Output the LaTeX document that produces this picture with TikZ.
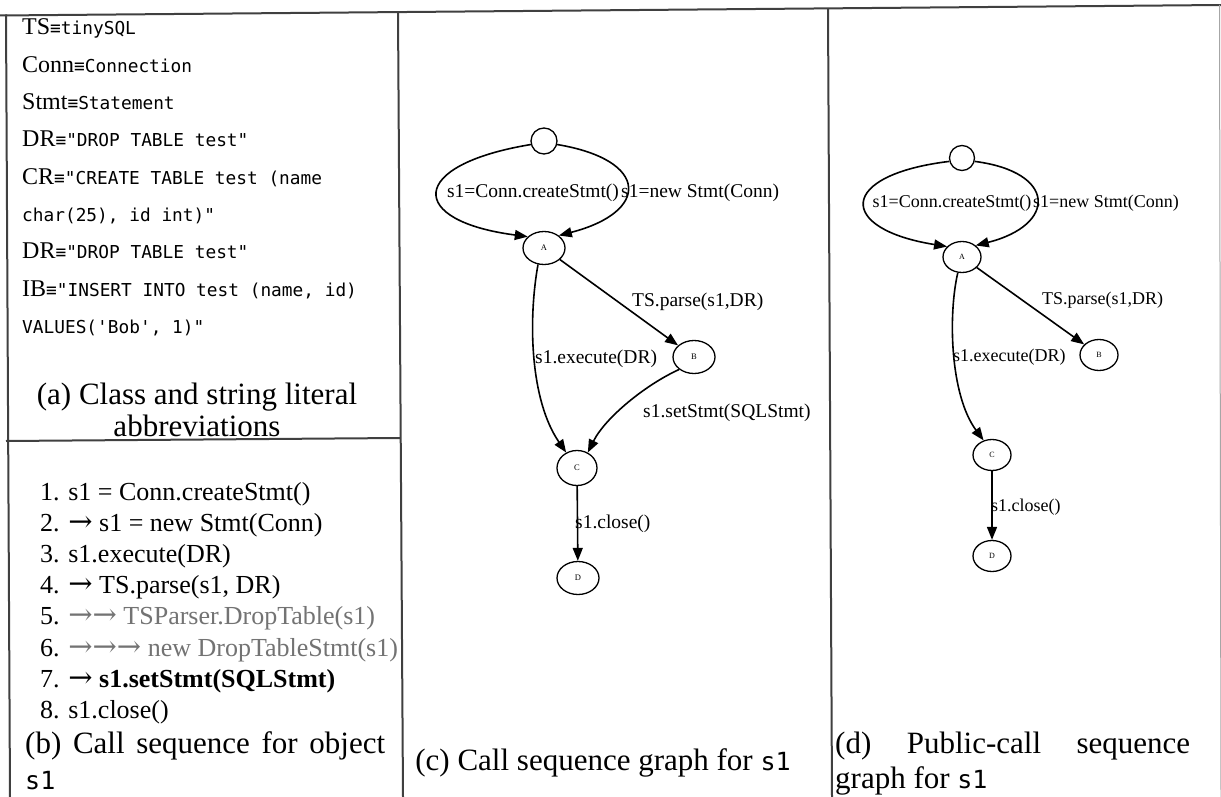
\documentclass[tikz,border=0pt]{standalone}
\usepackage{fontspec}
\setmainfont{Liberation Serif}
\setmonofont{DejaVu Sans Mono}
\newfontfamily\arrfont{DejaVu Serif}
\usetikzlibrary{shapes.geometric,arrows.meta}
\newcommand\fsz[1]{\fontsize{#1}{#1}\selectfont}
\newcommand\abbr[2]{\fsz{24}#1{\ttfamily\fsz{17.8}≡#2}}
\newcommand\rarr[1]{{\arrfont\fsz{29}#1}}
\begin{document}
\begin{tikzpicture}[x=1pt,y=-1pt,
  frameline/.style={line width=2pt, draw=black!75},
  txt/.style={anchor=base west, inner sep=0pt},
  mono/.style={anchor=base west, inner sep=0pt, font=\ttfamily\fsz{17.8}},
  item/.style={anchor=base west, inner sep=0pt, font=\fsz{26}},
  captxt/.style={inner sep=0pt, font=\fsz{31}},
  gnode/.style={ellipse, draw, line width=1.3pt, inner sep=0pt, minimum width=42pt, minimum height=33pt, font=\fsz{8.5}},
  gnoded/.style={ellipse, draw, line width=1.3pt, inner sep=0pt, minimum width=38pt, minimum height=31pt, font=\fsz{8}},
  topc/.style={circle, draw, line width=1.3pt, minimum size=26pt, inner sep=0pt},
  edge/.style={line width=1.6pt, -{Triangle[length=13pt,width=10pt]}},
  lblc/.style={inner sep=0pt, font=\fsz{19.5}},
  lbld/.style={inner sep=0pt, font=\fsz{18}}
]
\useasboundingbox (0,0) rectangle (1221,797);
\fill[white] (0,0) rectangle (1221,797);

% frame
\draw[frameline] (0,15.5) -- (1221,5);
\draw[frameline] (6,14.5) -- (10,797);
\draw[frameline] (398,12) -- (403,797);
\draw[frameline] (828,8.5) -- (832,797);
\draw[frameline] (6,441) -- (400,438);
\draw[line width=1pt, draw=black!35] (1219.5,5) -- (1221,797);

% panel (a)
\node[txt] (a1) at (22,35) {\abbr{TS}{tinySQL}};
\node[txt] (a2) at (22,72.3) {\abbr{Conn}{Connection}};
\node[txt] (a3) at (22,109.6) {\abbr{Stmt}{Statement}};
\node[txt] (a4) at (22,146.9) {\abbr{DR}{"DROP TABLE test"}};
\node[txt] (a5) at (22,184.2) {\abbr{CR}{"CREATE TABLE test (name}};
\node[mono] (a6) at (22,221.5) {char(25), id int)"};
\node[txt] (a7) at (22,258.8) {\abbr{DR}{"DROP TABLE test"}};
\node[txt] (a8) at (22,296.1) {\abbr{IB}{"INSERT INTO test (name, id)}};
\node[mono] (a9) at (22,333.4) {VALUES('Bob', 1)"};
\node[captxt, anchor=base] (capa1) at (197,404) {(a) Class and string literal};
\node[captxt, anchor=base] (capa2) at (197,436) {abbreviations};

% panel (b)
\node[item] (b1) at (40,500) {1. s1 = Conn.createStmt()};
\node[item] (b2) at (40,531.2) {2. \rarr{→} s1 = new Stmt(Conn)};
\node[item] (b3) at (40,562.4) {3. s1.execute(DR)};
\node[item] (b4) at (40,593.6) {4. \rarr{→} TS.parse(s1, DR)};
\node[item] (b5) at (40,624.8) {5. {\color{black!55}\rarr{→→} TSParser.DropTable(s1)}};
\node[item] (b6) at (40,656) {6. {\color{black!55}\rarr{→→→} new DropTableStmt(s1)}};
\node[item] (b7) at (40,687.2) {7. \rarr{→} \textbf{s1.setStmt(SQLStmt)}};
\node[item] (b8) at (40,718.4) {8. s1.close()};
\node[captxt, anchor=base west] (capb1) at (25,753) {\makebox[360pt][s]{(b) Call sequence for object}};
\node[captxt, anchor=base west, font=\ttfamily\fsz{25}] (capb2) at (25,789) {s1};

% panel (c)
\node[topc] (T) at (544,141) {};
\node[gnode] (A) at (544,248) {A};
\node[gnode] (B) at (694,357) {B};
\node[gnode, minimum width=40pt, minimum height=35pt] (C) at (577,468) {C};
\node[gnode] (D) at (578,578) {D};
\draw[edge] (T.195) .. controls (407,165) and (407,221) .. (A.145);
\draw[edge] (T.-15) .. controls (650,160) and (650,212) .. (A.40);
\draw[edge] (A) -- (B);
\draw[edge] (A.250) .. controls (528,320) and (530,400) .. (C.125);
\draw[edge] (B.220) .. controls (645,385) and (605,418) .. (C.55);
\draw[edge] (C) -- (D);
\node[lblc] (lc1) at (533,193) {s1=Conn.createStmt()};
\node[lblc, anchor=west] (lc2) at (621,193) {s1=new Stmt(Conn)};
\node[lblc, anchor=west] (lc3) at (632,302) {TS.parse(s1,DR)};
\node[lblc, anchor=west] (lc4) at (535,359) {s1.execute(DR)};
\node[lblc, anchor=west] (lc5) at (643,413) {s1.setStmt(SQLStmt)};
\node[lblc, anchor=west] (lc6) at (575,524) {s1.close()};
\node[captxt, anchor=base] (capc) at (603,770) {(c) Call sequence graph for {\ttfamily\fsz{25}s1}};

% panel (d)
\node[topc, minimum size=25pt] (T2) at (962,158) {};
\node[gnoded] (A2) at (962,257) {A};
\node[gnoded] (B2) at (1099,355) {B};
\node[gnoded] (C2) at (992,455) {C};
\node[gnoded] (D2) at (992,556) {D};
\draw[edge] (T2.195) .. controls (837,175) and (837,229) .. (A2.145);
\draw[edge] (T2.-15) .. controls (1057,172) and (1057,225) .. (A2.40);
\draw[edge] (A2) -- (B2);
\draw[edge] (A2.255) .. controls (948,315) and (950,395) .. (C2.120);
\draw[edge] (C2) -- (D2);
\node[lbld] (ld1) at (952,203) {s1=Conn.createStmt()};
\node[lbld, anchor=west] (ld2) at (1033,203) {s1=new Stmt(Conn)};
\node[lbld, anchor=west] (ld3) at (1042,300) {TS.parse(s1,DR)};
\node[lbld, anchor=west] (ld4) at (953,357) {s1.execute(DR)};
\node[lbld, anchor=west] (ld5) at (991,507) {s1.close()};
\node[captxt, anchor=base west] (capd1) at (835,753) {\makebox[355pt][s]{(d) Public-call sequence}};
\node[captxt, anchor=base west] (capd2) at (835,788) {graph for {\ttfamily\fsz{25}s1}};
\end{tikzpicture}
\end{document}
